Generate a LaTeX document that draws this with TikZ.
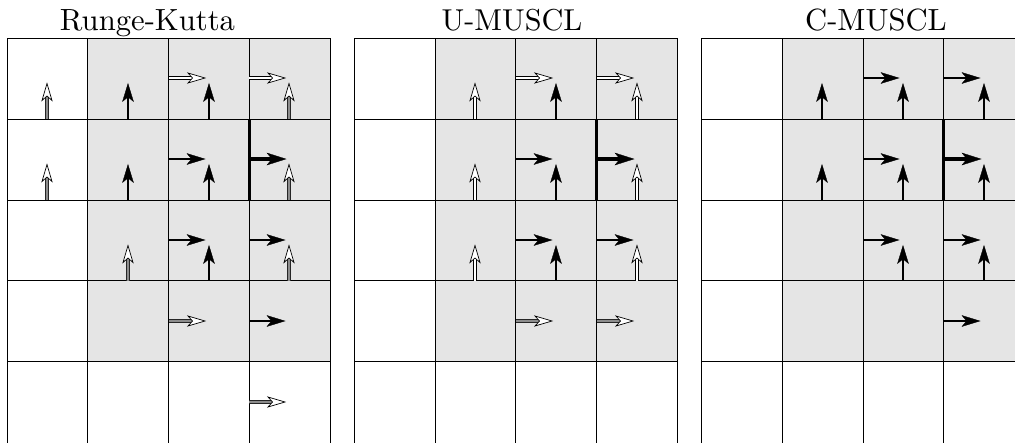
\documentclass[tikz,border=0pt]{standalone}
\usepackage{graphicx}
\usetikzlibrary{arrows.meta}
\definecolor{cellgray}{gray}{0.9}
\definecolor{shaftgray}{gray}{0.55}
\tikzset{
  gridline/.style={line width=0.9pt, black},
  bhead/.style={fill=black, draw=black, line width=0.3pt, line join=miter},
  ohead/.style={fill=white, draw=black, line width=0.7pt, line join=miter},
  blackshaft/.style={line width=1.5pt},
  whiteshaft/.style={line width=1pt, double=white, double distance=2pt},
  grayshaft/.style={line width=1pt, draw=black!85, double=shaftgray, double distance=2pt},
  pics/vb/.style={code={
    \draw[blackshaft] (40pt,-80.8pt) -- (40pt,-52pt);
    \path[bhead] (40pt,-45.5pt) -- ++(-5.5pt,-18pt) -- ++(5.5pt,4.5pt) -- ++(5.5pt,-4.5pt) -- cycle;}},
  pics/vo/.style={code={
    \draw[whiteshaft] (40pt,-80.8pt) -- (40pt,-52pt);
    \path[ohead] (40pt,-45.5pt) -- ++(-5pt,-17pt) -- ++(5pt,4.5pt) -- ++(5pt,-4.5pt) -- cycle;}},
  pics/vg/.style={code={
    \draw[grayshaft] (40pt,-80.8pt) -- (40pt,-52pt);
    \path[ohead] (40pt,-45.5pt) -- ++(-5pt,-17pt) -- ++(5pt,4.5pt) -- ++(5pt,-4.5pt) -- cycle;}},
  pics/hb/.style={code={
    \draw[blackshaft] (0pt,-40pt) -- (28pt,-40pt);
    \path[bhead] (36pt,-40pt) -- ++(-18pt,5.5pt) -- ++(4.5pt,-5.5pt) -- ++(-4.5pt,-5.5pt) -- cycle;}},
  pics/hT/.style={code={
    \draw[line width=3.2pt] (0pt,-40pt) -- (28pt,-40pt);
    \path[bhead] (37pt,-40pt) -- ++(-19pt,6pt) -- ++(5pt,-6pt) -- ++(-5pt,-6pt) -- cycle;}},
  pics/ho/.style={code={
    \draw[whiteshaft] (0pt,-40pt) -- (28pt,-40pt);
    \path[ohead] (36pt,-40pt) -- ++(-17pt,5pt) -- ++(4.5pt,-5pt) -- ++(-4.5pt,-5pt) -- cycle;}},
  pics/hg/.style={code={
    \draw[grayshaft] (0pt,-40pt) -- (28pt,-40pt);
    \path[ohead] (36pt,-40pt) -- ++(-17pt,5pt) -- ++(4.5pt,-5pt) -- ++(-4.5pt,-5pt) -- cycle;}},
}
\newcommand\mycellgrid{%
  \fill[cellgray] (1,0) rectangle (4,4);
  \foreach \i in {0,...,4} \draw[gridline] (\i,0) -- (\i,5.3);
  \foreach \j in {0,...,4} \draw[gridline] (0,\j) -- (4,\j);
  \draw[line width=3pt] (3,1) -- (3,2);
}
% place arrow pic #4 in cell (col #2,row #3) of the panel whose left edge is #1
\newcommand\putarrow[4]{%
  \pgfmathsetmacro\myax{round(#1+80.8*#2)}%
  \pgfmathsetmacro\myay{round(38.4+80.8*#3)}%
  \pic at (\myax,\myay) {#4};}
\begin{document}
\begin{tikzpicture}[x=1pt,y=-1pt]
\useasboundingbox (0,0) rectangle (1015,442);
\clip (0,0) rectangle (1015,442);

\node[anchor=base, inner sep=0pt] (t1) at (147.5,30) {\resizebox{175pt}{!}{\fontsize{10}{12}\selectfont Runge-Kutta}};
\node[anchor=base, inner sep=0pt] (t2) at (512,30) {\resizebox{140.6pt}{!}{\fontsize{10}{12}\selectfont U-MUSCL}};
\node[anchor=base, inner sep=0pt] (t3) at (876,30) {\resizebox{141.7pt}{!}{\fontsize{10}{12}\selectfont C-MUSCL}};

% grids
\begin{scope}[shift={(7,38.4)}, x=80.8pt, y=-80.8pt]
  \mycellgrid
\end{scope}
\begin{scope}[shift={(354.2,38.4)}, x=80.8pt, y=-80.8pt]
  \mycellgrid
\end{scope}
\begin{scope}[shift={(701.5,38.4)}, x=80.8pt, y=-80.8pt]
  \mycellgrid
\end{scope}

% Runge-Kutta arrows
\foreach \c/\r in {0/0,3/0,0/1,3/1,1/2,3/2} {\putarrow{7}{\c}{\r}{vg}}
\foreach \c/\r in {1/0,2/0,1/1,2/1,2/2} {\putarrow{7}{\c}{\r}{vb}}
\foreach \c/\r in {2/0,3/0} {\putarrow{7}{\c}{\r}{ho}}
\foreach \c/\r in {2/1,2/2,3/2,3/3} {\putarrow{7}{\c}{\r}{hb}}
\putarrow{7}{3}{1}{hT}
\foreach \c/\r in {2/3,3/4} {\putarrow{7}{\c}{\r}{hg}}

% U-MUSCL arrows
\foreach \c/\r in {1/0,3/0,1/1,3/1,1/2,3/2} {\putarrow{354.2}{\c}{\r}{vo}}
\foreach \c/\r in {2/0,2/1,2/2} {\putarrow{354.2}{\c}{\r}{vb}}
\foreach \c/\r in {2/0,3/0} {\putarrow{354.2}{\c}{\r}{ho}}
\foreach \c/\r in {2/1,2/2,3/2} {\putarrow{354.2}{\c}{\r}{hb}}
\putarrow{354.2}{3}{1}{hT}
\foreach \c/\r in {2/3,3/3} {\putarrow{354.2}{\c}{\r}{hg}}

% C-MUSCL arrows
\foreach \c/\r in {1/0,2/0,3/0,1/1,2/1,3/1,2/2,3/2} {\putarrow{701.5}{\c}{\r}{vb}}
\foreach \c/\r in {2/0,3/0,2/1,2/2,3/2,3/3} {\putarrow{701.5}{\c}{\r}{hb}}
\putarrow{701.5}{3}{1}{hT}
\end{tikzpicture}
\end{document}
